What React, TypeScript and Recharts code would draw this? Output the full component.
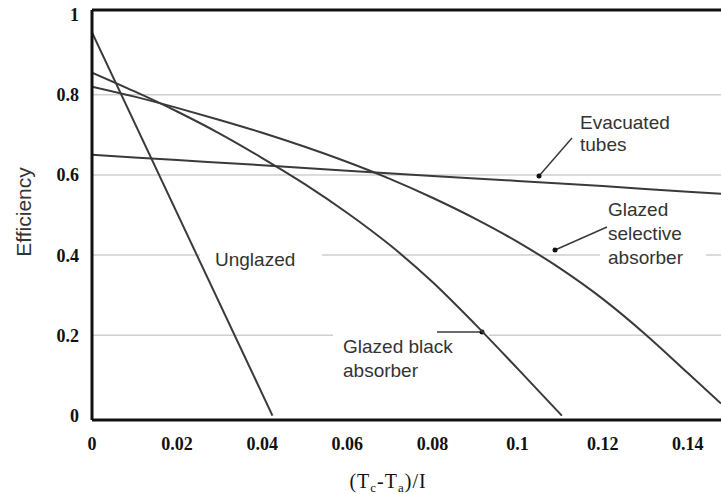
import { LineChart, Line, XAxis, YAxis, CartesianGrid, ReferenceLine } from 'recharts';

// x = (Tc - Ta)/I, y = efficiency
const unglazedX = [0, 0.0424];
const unglazedY = [0.955, 0];

const blackX = [0, 0.01, 0.02, 0.03, 0.04, 0.05, 0.06, 0.07, 0.08, 0.09, 0.1, 0.1104];
const blackY = [0.855, 0.808, 0.758, 0.703, 0.642, 0.577, 0.505, 0.425, 0.333, 0.228, 0.117, 0];

const selectiveX = [0, 0.01, 0.02, 0.03, 0.04, 0.05, 0.06, 0.07, 0.08, 0.09, 0.1, 0.11, 0.12, 0.13, 0.14, 0.1478];
const selectiveY = [0.82, 0.795, 0.767, 0.737, 0.705, 0.67, 0.632, 0.59, 0.543, 0.491, 0.433, 0.367, 0.291, 0.203, 0.106, 0.03];

const evacX = [0, 0.02, 0.04, 0.06, 0.08, 0.1, 0.12, 0.14, 0.1478];
const evacY = [0.65, 0.637, 0.624, 0.61, 0.597, 0.585, 0.572, 0.558, 0.553];

const xTicks = [0, 0.02, 0.04, 0.06, 0.08, 0.1, 0.12, 0.14];
const yTicks = [0, 0.2, 0.4, 0.6, 0.8, 1];

const X_MAX = 0.1478;
const Y_MIN = -0.011;
const Y_MAX = 1.011;

const toPoints = (xs: number[], ys: number[]) => xs.map((x, i) => ({ x, y: ys[i] }));

const LINE = '#3a3a3a';
const SANS = '"Liberation Sans", Arial, sans-serif';
const SERIF = '"Liberation Serif", "Times New Roman", serif';

// white patches where the original's gridlines are broken by the labels
function GridGaps() {
  return (
    <g>
      <rect x={200} y={248} width={122} height={14} fill="#fff" />
      <rect x={600} y={248} width={106} height={14} fill="#fff" />
      <rect x={333} y={328} width={156} height={14} fill="#fff" />
    </g>
  );
}

function Annotations() {
  const txt = { fontFamily: SANS, fontSize: 19, fill: '#333' };
  return (
    <g>
      <text x={215} y={266} {...txt}>Unglazed</text>
      <text x={343} y={353} {...txt}>Glazed black</text>
      <text x={343} y={377} {...txt}>absorber</text>
      <text x={580} y={129} {...txt}>Evacuated</text>
      <text x={580} y={151} {...txt}>tubes</text>
      <text x={608} y={216} {...txt}>Glazed</text>
      <text x={608} y={240} {...txt}>selective</text>
      <text x={608} y={264} {...txt}>absorber</text>

      <line x1={572} y1={138} x2={539} y2={176} stroke={LINE} strokeWidth={1.5} />
      <circle cx={539} cy={176} r={2.5} fill="#111" />
      <line x1={607} y1={227} x2={555} y2={250} stroke={LINE} strokeWidth={1.5} />
      <circle cx={555} cy={250} r={2.5} fill="#111" />
      <line x1={437} y1={332} x2={482} y2={332} stroke={LINE} strokeWidth={1.5} />
      <circle cx={482} cy={332} r={2.5} fill="#111" />

      <text x={23} y={212} transform="rotate(-90 23 212)" textAnchor="middle" dominantBaseline="central"
        fontFamily={SANS} fontSize={21} fill="#333">Efficiency</text>

      <text x={388} y={488} textAnchor="middle" fontFamily={SERIF} fontSize={20} fill="#111" letterSpacing={1}>
        (T<tspan fontSize={13} dy={4}>c</tspan><tspan dy={-4}>-T</tspan><tspan fontSize={13} dy={4}>a</tspan><tspan dy={-4}>)/I</tspan>
      </text>
    </g>
  );
}

const fmt = (v: number) => String(v);

export default function App() {
  return (
    <div style={{ position: 'absolute', left: 0, top: 0, background: '#fff' }}>
      <LineChart width={721} height={494} margin={{ top: 10, right: 0, bottom: 0, left: 0 }}>
        <CartesianGrid horizontal vertical={false} stroke="#cfcfcf" strokeWidth={1.5} horizontalValues={[0.2, 0.4, 0.6, 0.8]} />
        <GridGaps />
        <XAxis
          type="number"
          dataKey="x"
          domain={[0, X_MAX]}
          ticks={xTicks}
          tickFormatter={fmt}
          allowDataOverflow
          height={74}
          tickSize={0}
          tickMargin={17}
          tickLine={false}
          axisLine={{ stroke: '#111', strokeWidth: 3 }}
          tick={{ fontFamily: SERIF, fontSize: 18, fontWeight: 'bold', fill: '#111' }}
        />
        <YAxis
          type="number"
          domain={[Y_MIN, Y_MAX]}
          ticks={yTicks}
          tickFormatter={fmt}
          allowDataOverflow
          width={92}
          tickSize={0}
          tickMargin={13}
          tickLine={false}
          axisLine={{ stroke: '#111', strokeWidth: 3 }}
          tick={{ fontFamily: SERIF, fontSize: 18, fontWeight: 'bold', fill: '#111' }}
        />
        <ReferenceLine y={Y_MAX} stroke="#111" strokeWidth={3} />
        <Line data={toPoints(unglazedX, unglazedY)} dataKey="y" type="linear" stroke={LINE} strokeWidth={2} dot={false} isAnimationActive={false} />
        <Line data={toPoints(blackX, blackY)} dataKey="y" type="monotone" stroke={LINE} strokeWidth={2} dot={false} isAnimationActive={false} />
        <Line data={toPoints(selectiveX, selectiveY)} dataKey="y" type="monotone" stroke={LINE} strokeWidth={2} dot={false} isAnimationActive={false} />
        <Line data={toPoints(evacX, evacY)} dataKey="y" type="monotone" stroke={LINE} strokeWidth={2} dot={false} isAnimationActive={false} />
        <Annotations />
      </LineChart>
    </div>
  );
}
